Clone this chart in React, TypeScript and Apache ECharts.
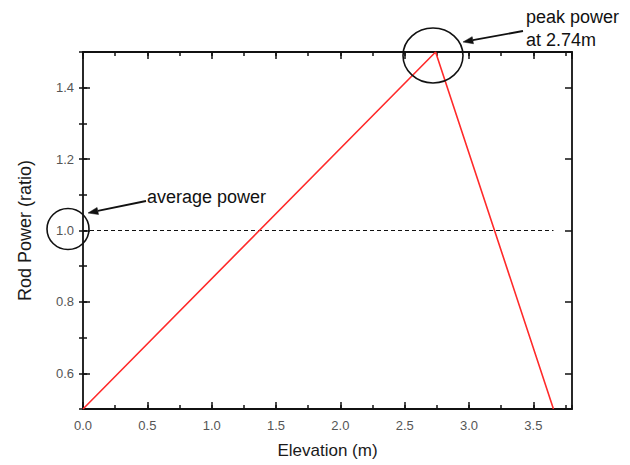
import React, { useEffect, useRef } from 'react';
import * as echarts from 'echarts';

// Data
const elevation = [0, 2.74, 3.656];
const rodPower = [0.5, 1.5, 0.5];
const averageX = [0, 3.656];
const averageY = [1.0, 1.0];
const xMin = 0;
const xMax = 3.8;
const yMin = 0.5;
const yMax = 1.5;
const xMajor = 0.5;
const xMinor = 0.25;
const yMinor = 0.1;

const FONT = 'Liberation Sans, Arial, sans-serif';
const BLACK = '#111';

function arrow(x1: number, y1: number, x2: number, y2: number) {
  const dx = x2 - x1;
  const dy = y2 - y1;
  const len = Math.sqrt(dx * dx + dy * dy);
  const ux = dx / len;
  const uy = dy / len;
  const hl = 10;
  const hw = 3.6;
  const bx = x2 - ux * hl;
  const by = y2 - uy * hl;
  const nx = -uy * hw;
  const ny = ux * hw;
  return [
    {
      type: 'line',
      shape: { x1, y1, x2: bx, y2: by },
      style: { stroke: BLACK, lineWidth: 1.8 },
    },
    {
      type: 'polygon',
      shape: { points: [[x2, y2], [bx + nx, by + ny], [bx - nx, by - ny]] },
      style: { fill: BLACK, stroke: BLACK, lineWidth: 0.5 },
    },
  ];
}

export default function App() {
  const ref = useRef<HTMLDivElement>(null);
  useEffect(() => {
    if (!ref.current) return;
    const chart = echarts.init(ref.current, undefined, { renderer: 'svg' });

    const majorTick = { show: true, inside: true, length: 7, lineStyle: { color: BLACK, width: 1.5 } };
    const minorTick = { show: true, inside: true, length: 4, lineStyle: { color: BLACK, width: 1.5 } };
    const axisLine = { show: true, onZero: false, lineStyle: { color: BLACK, width: 1.8 } };
    const noLine = { show: false };
    const tickLabel = {
      color: '#555',
      fontSize: 13,
      fontFamily: FONT,
      formatter: (v: number) => v.toFixed(1),
    };

    const xBase = { type: 'value', min: xMin, max: xMax, splitLine: { show: false } };
    const yBase = { type: 'value', min: yMin, max: yMax, splitLine: { show: false } };

    const option: any = {
      animation: false,
      backgroundColor: '#fff',
      grid: { left: 83, top: 52, width: 489, height: 357, outerBoundsMode: 'none', containLabel: false },
      xAxis: [
        {
          ...xBase,
          position: 'bottom',
          interval: xMajor,
          axisLine,
          axisTick: majorTick,
          axisLabel: { ...tickLabel, margin: 10, showMaxLabel: false },
          name: 'Elevation (m)',
          nameLocation: 'middle',
          nameGap: 33,
          nameTextStyle: { color: '#1a1a1a', fontSize: 17, fontFamily: FONT },
        },
        { ...xBase, position: 'bottom', interval: xMinor, axisLine: noLine, axisTick: minorTick, axisLabel: { show: false } },
        { ...xBase, position: 'top', interval: xMajor, axisLine, axisTick: majorTick, axisLabel: { show: false } },
        { ...xBase, position: 'top', interval: xMinor, axisLine: noLine, axisTick: minorTick, axisLabel: { show: false } },
      ],
      yAxis: [
        {
          ...yBase,
          position: 'left',
          splitNumber: 5,
          axisLine,
          axisTick: majorTick,
          axisLabel: { ...tickLabel, margin: 9, showMinLabel: false, showMaxLabel: false },
          name: 'Rod Power (ratio)',
          nameLocation: 'middle',
          nameGap: 49,
          nameTextStyle: { color: '#1a1a1a', fontSize: 18, fontFamily: FONT },
        },
        { ...yBase, position: 'left', interval: yMinor, axisLine: noLine, axisTick: minorTick, axisLabel: { show: false } },
        { ...yBase, position: 'right', splitNumber: 5, axisLine, axisTick: majorTick, axisLabel: { show: false } },
        { ...yBase, position: 'right', interval: yMinor, axisLine: noLine, axisTick: minorTick, axisLabel: { show: false } },
      ],
      series: [
        {
          type: 'line',
          xAxisIndex: 0,
          yAxisIndex: 0,
          data: averageX.map((x, i) => [x, averageY[i]]),
          symbol: 'none',
          lineStyle: { color: BLACK, width: 1, type: [4, 3] },
          z: 1,
        },
        {
          type: 'line',
          xAxisIndex: 0,
          yAxisIndex: 0,
          data: elevation.map((x, i) => [x, rodPower[i]]),
          symbol: 'none',
          lineStyle: { color: '#ff2a2a', width: 1.6 },
          z: 2,
        },
      ],
      graphic: [
        {
          type: 'ellipse',
          shape: { cx: 68, cy: 229, rx: 21, ry: 20.5 },
          style: { fill: 'none', stroke: BLACK, lineWidth: 1.6 },
          z: 10,
        },
        {
          type: 'ellipse',
          shape: { cx: 433, cy: 55.5, rx: 30, ry: 27.5 },
          style: { fill: 'none', stroke: BLACK, lineWidth: 1.6 },
          z: 10,
        },
        ...arrow(146, 201, 88, 213),
        ...arrow(523, 31, 463, 42),
        {
          type: 'text',
          x: 147,
          y: 197,
          style: {
            text: 'average power',
            fill: '#111',
            fontSize: 18,
            fontFamily: FONT,
            verticalAlign: 'middle',
            align: 'left',
          },
          z: 10,
        },
        {
          type: 'text',
          x: 526,
          y: 5,
          style: {
            text: 'peak power\nat 2.74m',
            fill: '#111',
            fontSize: 18,
            lineHeight: 23,
            fontFamily: FONT,
            verticalAlign: 'top',
            align: 'left',
          },
          z: 10,
        },
      ],
    };
    chart.setOption(option);
    return () => chart.dispose();
  }, []);
  return <div ref={ref} style={{ position: 'fixed', left: 0, top: 0, width: 630, height: 465 }} />;
}
